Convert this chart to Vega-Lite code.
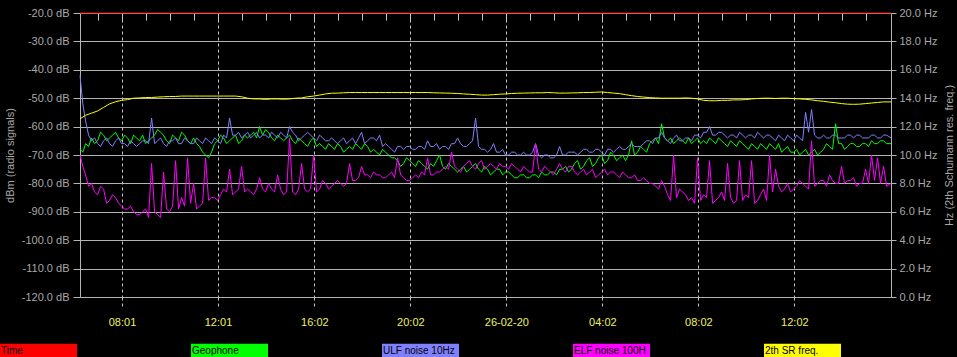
{
  "$schema": "https://vega.github.io/schema/vega-lite/v6.json",
  "width": 811,
  "height": 284,
  "autosize": {"type": "none"},
  "padding": {"left": 80, "top": 13, "right": 66, "bottom": 60},
  "background": "#000000",
  "config": {
    "view": {"stroke": null},
    "font": "Liberation Sans",
    "axis": {"labelFont": "Liberation Sans", "titleFont": "Liberation Sans", "labelFontSize": 11, "titleFontSize": 11, "titleFontWeight": "normal"}
  },
  "data": {"values": [
    {"h":6.267,"t":-20,"g":-68,"u":-42,"e":-70,"f":12.55},
    {"h":6.5,"t":-20,"g":-66,"u":-58,"e":-77,"f":12.8},
    {"h":6.75,"t":-20,"g":-64,"u":-65,"e":-80,"f":12.95},
    {"h":7.0,"t":-20,"g":-65,"u":-66,"e":-84,"f":13.1},
    {"h":7.25,"t":-20,"g":-63,"u":-65,"e":-82,"f":13.35},
    {"h":7.5,"t":-20,"g":-64,"u":-66,"e":-86,"f":13.6},
    {"h":7.75,"t":-20,"g":-62,"u":-65,"e":-85,"f":13.75},
    {"h":8.0,"t":-20,"g":-65,"u":-66,"e":-88,"f":13.85},
    {"h":8.25,"t":-20,"g":-64,"u":-67,"e":-89,"f":13.9},
    {"h":8.5,"t":-20,"g":-63,"u":-66,"e":-90,"f":14.0},
    {"h":8.75,"t":-20,"g":-65,"u":-66,"e":-91,"f":14.02},
    {"h":9.0,"t":-20,"g":-66,"u":-65,"e":-89,"f":14.05},
    {"h":9.25,"t":-20,"g":-64,"u":-57,"e":-73,"f":14.05},
    {"h":9.5,"t":-20,"g":-61,"u":-65,"e":-91,"f":14.08},
    {"h":9.75,"t":-20,"g":-63,"u":-66,"e":-76,"f":14.1},
    {"h":10.0,"t":-20,"g":-66,"u":-65,"e":-90,"f":14.12},
    {"h":10.25,"t":-20,"g":-64,"u":-64,"e":-72,"f":14.12},
    {"h":10.5,"t":-20,"g":-62,"u":-66,"e":-85,"f":14.15},
    {"h":10.75,"t":-20,"g":-65,"u":-65,"e":-71,"f":14.15},
    {"h":11.0,"t":-20,"g":-64,"u":-66,"e":-80,"f":14.15},
    {"h":11.25,"t":-20,"g":-67,"u":-65,"e":-88,"f":14.15},
    {"h":11.5,"t":-20,"g":-70,"u":-64,"e":-71,"f":14.15},
    {"h":11.75,"t":-20,"g":-69,"u":-66,"e":-85,"f":14.15},
    {"h":12.0,"t":-20,"g":-65,"u":-65,"e":-86,"f":14.15},
    {"h":12.25,"t":-20,"g":-64,"u":-63,"e":-82,"f":14.15},
    {"h":12.5,"t":-20,"g":-65,"u":-57,"e":-75,"f":14.15},
    {"h":12.75,"t":-20,"g":-63,"u":-63,"e":-83,"f":14.15},
    {"h":13.0,"t":-20,"g":-65,"u":-64,"e":-74,"f":14.1},
    {"h":13.25,"t":-20,"g":-64,"u":-62,"e":-82,"f":14.0},
    {"h":13.5,"t":-20,"g":-62,"u":-63,"e":-84,"f":13.95},
    {"h":13.75,"t":-20,"g":-60,"u":-64,"e":-78,"f":13.95},
    {"h":14.0,"t":-20,"g":-61,"u":-63,"e":-83,"f":13.92},
    {"h":14.25,"t":-20,"g":-64,"u":-62,"e":-82,"f":13.95},
    {"h":14.5,"t":-20,"g":-63,"u":-64,"e":-77,"f":13.95},
    {"h":14.75,"t":-20,"g":-65,"u":-63,"e":-84,"f":13.93},
    {"h":15.0,"t":-20,"g":-63,"u":-60,"e":-64,"f":13.95},
    {"h":15.25,"t":-20,"g":-66,"u":-63,"e":-84,"f":14.0},
    {"h":15.5,"t":-20,"g":-65,"u":-64,"e":-73,"f":14.02},
    {"h":15.75,"t":-20,"g":-67,"u":-62,"e":-83,"f":14.1},
    {"h":16.0,"t":-20,"g":-64,"u":-64,"e":-70,"f":14.15},
    {"h":16.25,"t":-20,"g":-66,"u":-63,"e":-82,"f":14.22},
    {"h":16.5,"t":-20,"g":-68,"u":-65,"e":-80,"f":14.3},
    {"h":16.75,"t":-20,"g":-67,"u":-64,"e":-81,"f":14.35},
    {"h":17.0,"t":-20,"g":-66,"u":-66,"e":-79,"f":14.36},
    {"h":17.25,"t":-20,"g":-69,"u":-64,"e":-81,"f":14.38},
    {"h":17.5,"t":-20,"g":-67,"u":-65,"e":-73,"f":14.4},
    {"h":17.75,"t":-20,"g":-66,"u":-66,"e":-79,"f":14.4},
    {"h":18.0,"t":-20,"g":-68,"u":-62,"e":-74,"f":14.4},
    {"h":18.25,"t":-20,"g":-67,"u":-65,"e":-77,"f":14.4},
    {"h":18.5,"t":-20,"g":-68,"u":-64,"e":-76,"f":14.4},
    {"h":18.75,"t":-20,"g":-70,"u":-63,"e":-77,"f":14.4},
    {"h":19.0,"t":-20,"g":-69,"u":-66,"e":-78,"f":14.4},
    {"h":19.25,"t":-20,"g":-71,"u":-68,"e":-76,"f":14.4},
    {"h":19.5,"t":-20,"g":-72,"u":-67,"e":-71,"f":14.4},
    {"h":19.75,"t":-20,"g":-73,"u":-68,"e":-78,"f":14.4},
    {"h":20.0,"t":-20,"g":-72,"u":-67,"e":-79,"f":14.4},
    {"h":20.25,"t":-20,"g":-74,"u":-68,"e":-77,"f":14.4},
    {"h":20.5,"t":-20,"g":-73,"u":-67,"e":-76,"f":14.4},
    {"h":20.75,"t":-20,"g":-75,"u":-65,"e":-71,"f":14.4},
    {"h":21.0,"t":-20,"g":-74,"u":-67,"e":-77,"f":14.38},
    {"h":21.25,"t":-20,"g":-70,"u":-68,"e":-76,"f":14.37},
    {"h":21.5,"t":-20,"g":-75,"u":-67,"e":-74,"f":14.36},
    {"h":21.75,"t":-20,"g":-74,"u":-66,"e":-69,"f":14.35},
    {"h":22.0,"t":-20,"g":-76,"u":-64,"e":-75,"f":14.33},
    {"h":22.25,"t":-20,"g":-74,"u":-67,"e":-74,"f":14.3},
    {"h":22.5,"t":-20,"g":-75,"u":-66,"e":-72,"f":14.28},
    {"h":22.75,"t":-20,"g":-73,"u":-57,"e":-75,"f":14.25},
    {"h":23.0,"t":-20,"g":-76,"u":-68,"e":-72,"f":14.22},
    {"h":23.25,"t":-20,"g":-75,"u":-69,"e":-74,"f":14.22},
    {"h":23.5,"t":-20,"g":-76,"u":-66,"e":-74,"f":14.25},
    {"h":23.75,"t":-20,"g":-75,"u":-69,"e":-73,"f":14.28},
    {"h":24.0,"t":-20,"g":-76,"u":-70,"e":-74,"f":14.3},
    {"h":24.25,"t":-20,"g":-77,"u":-69,"e":-73,"f":14.33},
    {"h":24.5,"t":-20,"g":-78,"u":-70,"e":-75,"f":14.35},
    {"h":24.75,"t":-20,"g":-77,"u":-69,"e":-74,"f":14.36},
    {"h":25.0,"t":-20,"g":-78,"u":-70,"e":-76,"f":14.37},
    {"h":25.25,"t":-20,"g":-77,"u":-66,"e":-66,"f":14.38},
    {"h":25.5,"t":-20,"g":-76,"u":-71,"e":-76,"f":14.38},
    {"h":25.75,"t":-20,"g":-77,"u":-70,"e":-75,"f":14.4},
    {"h":26.0,"t":-20,"g":-76,"u":-71,"e":-77,"f":14.38},
    {"h":26.25,"t":-20,"g":-75,"u":-67,"e":-73,"f":14.36},
    {"h":26.5,"t":-20,"g":-74,"u":-70,"e":-76,"f":14.36},
    {"h":26.75,"t":-20,"g":-75,"u":-69,"e":-74,"f":14.37},
    {"h":27.0,"t":-20,"g":-72,"u":-70,"e":-77,"f":14.38},
    {"h":27.25,"t":-20,"g":-74,"u":-68,"e":-75,"f":14.4},
    {"h":27.5,"t":-20,"g":-71,"u":-69,"e":-76,"f":14.4},
    {"h":27.75,"t":-20,"g":-73,"u":-68,"e":-78,"f":14.42},
    {"h":28.0,"t":-20,"g":-70,"u":-69,"e":-76,"f":14.44},
    {"h":28.25,"t":-20,"g":-72,"u":-68,"e":-77,"f":14.4},
    {"h":28.5,"t":-20,"g":-70,"u":-69,"e":-76,"f":14.36},
    {"h":28.75,"t":-20,"g":-71,"u":-67,"e":-78,"f":14.32},
    {"h":29.0,"t":-20,"g":-72,"u":-68,"e":-77,"f":14.25},
    {"h":29.25,"t":-20,"g":-65,"u":-66,"e":-78,"f":14.18},
    {"h":29.5,"t":-20,"g":-69,"u":-67,"e":-79,"f":14.12},
    {"h":29.75,"t":-20,"g":-68,"u":-66,"e":-78,"f":14.08},
    {"h":30.0,"t":-20,"g":-66,"u":-65,"e":-80,"f":14.04},
    {"h":30.25,"t":-20,"g":-64,"u":-64,"e":-81,"f":14.02},
    {"h":30.5,"t":-20,"g":-59,"u":-62,"e":-79,"f":14.0},
    {"h":30.75,"t":-20,"g":-65,"u":-65,"e":-84,"f":14.0},
    {"h":31.0,"t":-20,"g":-66,"u":-64,"e":-70,"f":14.0},
    {"h":31.25,"t":-20,"g":-64,"u":-65,"e":-82,"f":14.0},
    {"h":31.5,"t":-20,"g":-66,"u":-64,"e":-84,"f":14.02},
    {"h":31.75,"t":-20,"g":-66,"u":-65,"e":-85,"f":14.0},
    {"h":32.0,"t":-20,"g":-64,"u":-63,"e":-71,"f":13.95},
    {"h":32.25,"t":-20,"g":-65,"u":-62,"e":-84,"f":13.85},
    {"h":32.5,"t":-20,"g":-64,"u":-60,"e":-72,"f":13.82},
    {"h":32.75,"t":-20,"g":-66,"u":-63,"e":-86,"f":13.82},
    {"h":33.0,"t":-20,"g":-65,"u":-62,"e":-83,"f":13.85},
    {"h":33.25,"t":-20,"g":-67,"u":-64,"e":-73,"f":13.85},
    {"h":33.5,"t":-20,"g":-66,"u":-63,"e":-87,"f":13.88},
    {"h":33.75,"t":-20,"g":-65,"u":-62,"e":-72,"f":13.88},
    {"h":34.0,"t":-20,"g":-67,"u":-64,"e":-84,"f":13.9},
    {"h":34.25,"t":-20,"g":-66,"u":-63,"e":-72,"f":13.95},
    {"h":34.5,"t":-20,"g":-68,"u":-62,"e":-86,"f":13.98},
    {"h":34.75,"t":-20,"g":-67,"u":-64,"e":-82,"f":14.0},
    {"h":35.0,"t":-20,"g":-66,"u":-63,"e":-70,"f":14.0},
    {"h":35.25,"t":-20,"g":-68,"u":-65,"e":-75,"f":13.98},
    {"h":35.5,"t":-20,"g":-69,"u":-64,"e":-83,"f":14.0},
    {"h":35.75,"t":-20,"g":-67,"u":-63,"e":-80,"f":14.0},
    {"h":36.0,"t":-20,"g":-69,"u":-65,"e":-82,"f":13.97},
    {"h":36.25,"t":-20,"g":-70,"u":-64,"e":-79,"f":13.95},
    {"h":36.5,"t":-20,"g":-68,"u":-55,"e":-81,"f":13.92},
    {"h":36.75,"t":-20,"g":-69,"u":-54,"e":-65,"f":13.88},
    {"h":37.0,"t":-20,"g":-70,"u":-64,"e":-80,"f":13.82},
    {"h":37.25,"t":-20,"g":-68,"u":-63,"e":-79,"f":13.78},
    {"h":37.5,"t":-20,"g":-67,"u":-64,"e":-77,"f":13.72},
    {"h":37.75,"t":-20,"g":-59,"u":-63,"e":-80,"f":13.68},
    {"h":38.0,"t":-20,"g":-66,"u":-64,"e":-74,"f":13.62},
    {"h":38.25,"t":-20,"g":-67,"u":-63,"e":-79,"f":13.58},
    {"h":38.5,"t":-20,"g":-66,"u":-64,"e":-78,"f":13.57},
    {"h":38.75,"t":-20,"g":-67,"u":-63,"e":-80,"f":13.58},
    {"h":39.0,"t":-20,"g":-66,"u":-64,"e":-75,"f":13.62},
    {"h":39.25,"t":-20,"g":-65,"u":-63,"e":-70,"f":13.66},
    {"h":39.5,"t":-20,"g":-66,"u":-64,"e":-71,"f":13.7},
    {"h":39.75,"t":-20,"g":-65,"u":-63,"e":-74,"f":13.74},
    {"h":40.06,"t":-20,"g":-66,"u":-64,"e":-80,"f":13.74},
    {"h":6.385,"g":-69,"u":-52,"e":-74},
    {"h":6.625,"g":-67,"u":-63,"e":-81},
    {"h":6.875,"g":-66,"u":-64,"e":-83},
    {"h":7.125,"g":-62,"u":-67,"e":-81},
    {"h":7.375,"g":-65,"u":-64,"e":-87},
    {"h":7.625,"g":-63,"u":-67,"e":-84},
    {"h":7.875,"g":-64,"u":-64,"e":-87},
    {"h":8.125,"g":-63,"u":-66,"e":-89},
    {"h":8.375,"g":-66,"u":-65,"e":-88},
    {"h":8.625,"g":-64,"u":-67,"e":-91},
    {"h":8.875,"g":-63,"u":-65,"e":-90},
    {"h":9.125,"g":-65,"u":-66,"e":-92},
    {"h":9.375,"g":-63,"u":-66,"e":-90},
    {"h":9.625,"g":-62,"u":-64,"e":-92},
    {"h":9.875,"g":-65,"u":-67,"e":-89},
    {"h":10.125,"g":-63,"u":-65,"e":-88},
    {"h":10.375,"g":-65,"u":-66,"e":-89},
    {"h":10.625,"g":-63,"u":-64,"e":-88},
    {"h":10.875,"g":-66,"u":-66,"e":-87},
    {"h":11.125,"g":-66,"u":-64,"e":-89},
    {"h":11.375,"g":-69,"u":-66,"e":-87},
    {"h":11.625,"g":-71,"u":-65,"e":-86},
    {"h":11.875,"g":-66,"u":-64,"e":-85},
    {"h":12.125,"g":-63,"u":-66,"e":-84},
    {"h":12.375,"g":-66,"u":-64,"e":-83},
    {"h":12.625,"g":-64,"u":-63,"e":-84},
    {"h":12.875,"g":-66,"u":-62,"e":-82},
    {"h":13.125,"g":-63,"u":-63,"e":-83},
    {"h":13.375,"g":-63,"u":-64,"e":-83},
    {"h":13.625,"g":-64,"u":-62,"e":-82},
    {"h":13.875,"g":-63,"u":-63,"e":-82},
    {"h":14.125,"g":-62,"u":-64,"e":-80},
    {"h":14.375,"g":-65,"u":-63,"e":-83},
    {"h":14.625,"g":-64,"u":-62,"e":-82},
    {"h":14.875,"g":-64,"u":-64,"e":-83},
    {"h":15.125,"g":-65,"u":-62,"e":-83},
    {"h":15.375,"g":-64,"u":-65,"e":-82},
    {"h":15.625,"g":-66,"u":-63,"e":-82},
    {"h":15.875,"g":-65,"u":-63,"e":-82},
    {"h":16.125,"g":-67,"u":-65,"e":-83},
    {"h":16.375,"g":-67,"u":-64,"e":-79},
    {"h":16.625,"g":-66,"u":-65,"e":-82},
    {"h":16.875,"g":-68,"u":-65,"e":-80},
    {"h":17.125,"g":-67,"u":-65,"e":-80},
    {"h":17.375,"g":-68,"u":-66,"e":-80},
    {"h":17.625,"g":-68,"u":-64,"e":-79},
    {"h":17.875,"g":-67,"u":-64,"e":-78},
    {"h":18.125,"g":-66,"u":-66,"e":-77},
    {"h":18.375,"g":-69,"u":-64,"e":-78},
    {"h":18.625,"g":-69,"u":-65,"e":-77},
    {"h":18.875,"g":-68,"u":-67,"e":-78},
    {"h":19.125,"g":-70,"u":-67,"e":-77},
    {"h":19.375,"g":-71,"u":-69,"e":-78},
    {"h":19.625,"g":-74,"u":-67,"e":-77},
    {"h":19.875,"g":-71,"u":-67,"e":-79},
    {"h":20.125,"g":-73,"u":-68,"e":-78},
    {"h":20.375,"g":-72,"u":-67,"e":-78},
    {"h":20.625,"g":-74,"u":-68,"e":-77},
    {"h":20.875,"g":-73,"u":-67,"e":-77},
    {"h":21.125,"g":-72,"u":-66,"e":-76},
    {"h":21.375,"g":-74,"u":-67,"e":-75},
    {"h":21.625,"g":-73,"u":-68,"e":-75},
    {"h":21.875,"g":-75,"u":-66,"e":-74},
    {"h":22.125,"g":-75,"u":-66,"e":-76},
    {"h":22.375,"g":-76,"u":-67,"e":-73},
    {"h":22.625,"g":-74,"u":-65,"e":-74},
    {"h":22.875,"g":-75,"u":-67,"e":-73},
    {"h":23.125,"g":-74,"u":-68,"e":-75},
    {"h":23.375,"g":-77,"u":-68,"e":-73},
    {"h":23.625,"g":-75,"u":-69,"e":-75},
    {"h":23.875,"g":-77,"u":-68,"e":-74},
    {"h":24.125,"g":-76,"u":-70,"e":-75},
    {"h":24.375,"g":-78,"u":-69,"e":-74},
    {"h":24.625,"g":-77,"u":-70,"e":-76},
    {"h":24.875,"g":-78,"u":-70,"e":-75},
    {"h":25.125,"g":-77,"u":-69,"e":-76},
    {"h":25.375,"g":-78,"u":-70,"e":-75},
    {"h":25.625,"g":-77,"u":-70,"e":-74},
    {"h":25.875,"g":-76,"u":-71,"e":-76},
    {"h":26.125,"g":-77,"u":-70,"e":-75},
    {"h":26.375,"g":-75,"u":-70,"e":-75},
    {"h":26.625,"g":-76,"u":-69,"e":-74},
    {"h":26.875,"g":-73,"u":-69,"e":-76},
    {"h":27.125,"g":-75,"u":-69,"e":-76},
    {"h":27.375,"g":-72,"u":-68,"e":-77},
    {"h":27.625,"g":-74,"u":-69,"e":-75},
    {"h":27.875,"g":-71,"u":-68,"e":-77},
    {"h":28.125,"g":-73,"u":-70,"e":-75},
    {"h":28.375,"g":-69,"u":-68,"e":-76},
    {"h":28.625,"g":-72,"u":-68,"e":-77},
    {"h":28.875,"g":-70,"u":-68,"e":-76},
    {"h":29.125,"g":-70,"u":-67,"e":-78},
    {"h":29.375,"g":-70,"u":-67,"e":-77},
    {"h":29.625,"g":-67,"u":-67,"e":-79},
    {"h":29.875,"g":-69,"u":-65,"e":-79},
    {"h":30.125,"g":-65,"u":-66,"e":-80},
    {"h":30.375,"g":-66,"u":-64,"e":-82},
    {"h":30.625,"g":-64,"u":-64,"e":-81},
    {"h":30.875,"g":-64,"u":-66,"e":-86},
    {"h":31.125,"g":-65,"u":-63,"e":-85},
    {"h":31.375,"g":-65,"u":-65,"e":-83},
    {"h":31.625,"g":-64,"u":-64,"e":-86},
    {"h":31.875,"g":-65,"u":-63,"e":-87},
    {"h":32.125,"g":-66,"u":-64,"e":-86},
    {"h":32.375,"g":-66,"u":-62,"e":-85},
    {"h":32.625,"g":-65,"u":-63,"e":-87},
    {"h":32.875,"g":-64,"u":-62,"e":-85},
    {"h":33.125,"g":-66,"u":-63,"e":-86},
    {"h":33.375,"g":-65,"u":-63,"e":-85},
    {"h":33.625,"g":-67,"u":-64,"e":-86},
    {"h":33.875,"g":-66,"u":-63,"e":-86},
    {"h":34.125,"g":-68,"u":-63,"e":-85},
    {"h":34.375,"g":-67,"u":-64,"e":-87},
    {"h":34.625,"g":-66,"u":-63,"e":-84},
    {"h":34.875,"g":-68,"u":-63,"e":-86},
    {"h":35.125,"g":-67,"u":-64,"e":-83},
    {"h":35.375,"g":-66,"u":-63,"e":-81},
    {"h":35.625,"g":-68,"u":-65,"e":-82},
    {"h":35.875,"g":-69,"u":-64,"e":-83},
    {"h":36.125,"g":-68,"u":-63,"e":-81},
    {"h":36.375,"g":-69,"u":-65,"e":-80},
    {"h":36.625,"g":-70,"u":-62,"e":-82},
    {"h":36.875,"g":-68,"u":-63,"e":-81},
    {"h":37.125,"g":-69,"u":-64,"e":-79},
    {"h":37.375,"g":-66,"u":-64,"e":-81},
    {"h":37.625,"g":-68,"u":-63,"e":-79},
    {"h":37.875,"g":-66,"u":-64,"e":-80},
    {"h":38.125,"g":-68,"u":-64,"e":-80},
    {"h":38.375,"g":-66,"u":-63,"e":-79},
    {"h":38.625,"g":-67,"u":-63,"e":-81},
    {"h":38.875,"g":-66,"u":-64,"e":-80},
    {"h":39.125,"g":-67,"u":-64,"e":-80},
    {"h":39.375,"g":-66,"u":-63,"e":-79},
    {"h":39.625,"g":-65,"u":-64,"e":-80},
    {"h":39.875,"g":-66,"u":-63,"e":-81}
  ]},
  "layer": [
    {
      "transform": [{"fold": ["t", "g", "u", "e"], "as": ["s", "v"]}],
      "mark": {"type": "line", "strokeWidth": 1, "clip": false, "invalid": "filter"},
      "encoding": {
        "x": {
          "field": "h", "type": "quantitative",
          "scale": {"domain": [6.267, 40.06], "nice": false, "zero": false},
          "axis": {
            "values": [8.0167, 12.0167, 16.0333, 20.0333, 24.0333, 28.0333, 32.0333, 36.0333],
            "labelExpr": "['08:01','12:01','16:02','20:02','26-02-20','04:02','08:02','12:02'][round((datum.value-8)/4)]",
            "grid": true, "gridColor": "#c8c8c8", "gridDash": [3, 3], "gridWidth": 1,
            "tickSize": 12, "tickDash": [3, 3], "tickColor": "#c8c8c8",
            "domainColor": "#b4b4b4", "labelColor": "#f0f060", "labelPadding": 7,
            "labelFlush": false, "labelOverlap": false, "title": null
          }
        },
        "y": {
          "field": "v", "type": "quantitative",
          "scale": {"domain": [-120, -20], "nice": false, "zero": false},
          "axis": {
            "values": [-120, -110, -100, -90, -80, -70, -60, -50, -40, -30, -20],
            "labelExpr": "(datum.value < 0 ? '-' : '') + format(abs(datum.value), '.1f') + ' dB'",
            "grid": true, "gridColor": "#b4b4b4", "gridWidth": 1,
            "tickSize": 7, "tickColor": "#b4b4b4", "domainColor": "#b4b4b4",
            "labelColor": "#a8a8a8", "labelPadding": 4, "labelFlush": false,
            "title": "dBm (radio signals)", "titleColor": "#a8a8a8", "titlePadding": 6
          }
        },
        "color": {
          "field": "s", "type": "nominal",
          "scale": {"domain": ["t", "g", "u", "e", "f"], "range": ["#ff0000", "#00ff00", "#8080ff", "#ff00ff", "#ffff00"]},
          "legend": {
            "orient": "none", "legendX": -80, "legendY": 299,
            "direction": "horizontal", "columns": 5, "title": null,
            "symbolType": "M-1,-0.182H1V0.182H-1Z", "symbolSize": 5929,
            "symbolStrokeWidth": 0, "labelOffset": -76, "columnPadding": 114,
            "padding": 0, "labelColor": "#000000", "labelFont": "Liberation Sans", "labelFontSize": 10,
            "labelLimit": 200,
            "labelExpr": "datum.value == 't' ? 'Time' : datum.value == 'g' ? 'Geophone' : datum.value == 'u' ? 'ULF noise 10Hz' : datum.value == 'e' ? 'ELF noise 100H' : '2th SR freq.'",
            "encode": {"symbols": {"update": {"fill": {"scale": "color", "field": "value"}, "fillOpacity": {"value": 1}, "strokeWidth": {"value": 0}, "opacity": {"value": 1}}}}
          }
        }
      }
    },
    {
      "transform": [{"fold": ["f"], "as": ["s", "v"]}],
      "mark": {"type": "line", "strokeWidth": 1, "clip": false, "invalid": "filter"},
      "encoding": {
        "x": {
          "field": "h", "type": "quantitative",
          "axis": {
            "values": [7.0167, 8.0167, 9.0167, 10.0167, 11.0167, 12.0167, 13.0167, 14.0167, 15.0167, 16.0333, 17.0333, 18.0333, 19.0333, 20.0333, 21.0333, 22.0333, 23.0333, 24.0333, 25.0333, 26.0333, 27.0333, 28.0333, 29.0333, 30.0333, 31.0333, 32.0333, 33.0333, 34.0333, 35.0333, 36.0333, 37.0333, 38.0333, 39.0333],
            "labels": false, "domain": false, "grid": false, "offset": -7,
            "ticks": true, "tickSize": 7, "tickColor": "#c8c8c8", "title": null
          }
        },
        "y": {
          "field": "v", "type": "quantitative",
          "scale": {"domain": [0, 20], "nice": false, "zero": false},
          "axis": {
            "orient": "right",
            "values": [0, 2, 4, 6, 8, 10, 12, 14, 16, 18, 20],
            "labelExpr": "format(datum.value, '.1f') + ' Hz'",
            "grid": false, "tickSize": 5, "tickColor": "#b4b4b4", "domainColor": "#b4b4b4",
            "labelColor": "#a8a8a8", "labelPadding": 3, "labelFlush": false,
            "title": "Hz (2th Schumann res. freq.)", "titleColor": "#a8a8a8",
            "titleAngle": 270, "titleBaseline": "top", "titlePadding": 7
          }
        },
        "color": {"field": "s", "type": "nominal"}
      }
    }
  ],
  "resolve": {"scale": {"y": "independent"}, "axis": {"x": "independent"}}
}
